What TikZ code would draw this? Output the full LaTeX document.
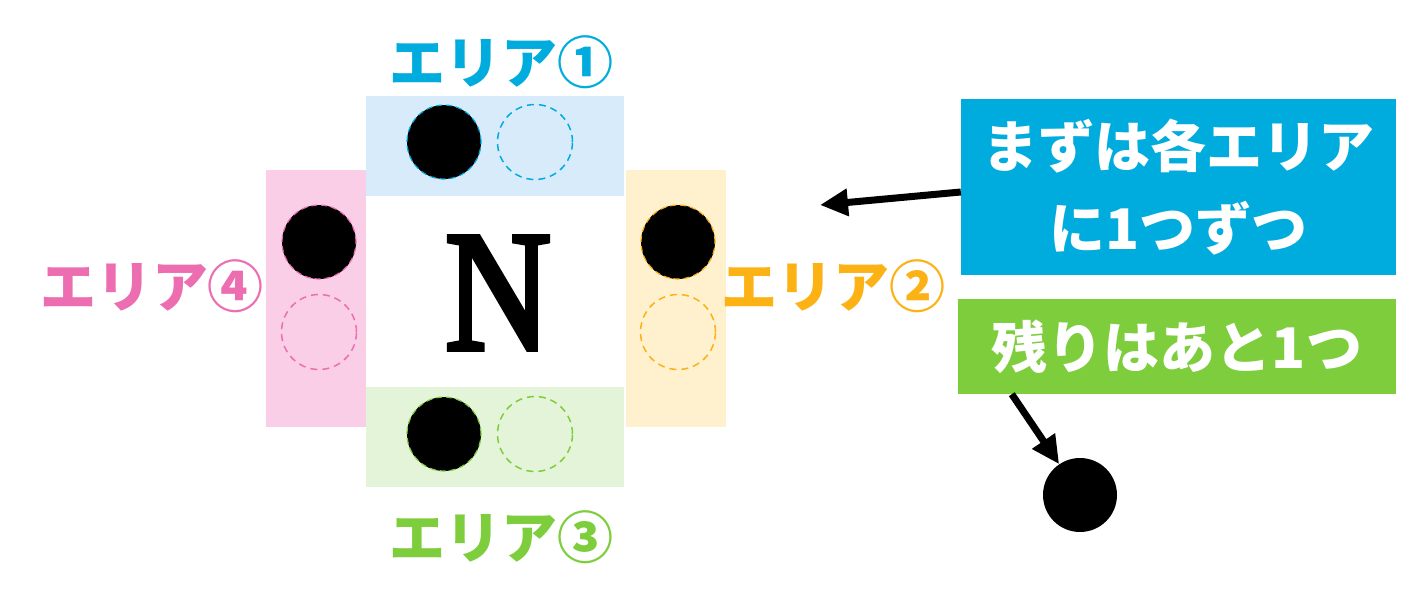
\documentclass[tikz,border=0pt]{standalone}
\usepackage{fontspec}
\newfontfamily\jpfont{Noto Sans CJK JP}
\newfontfamily\nfont{Liberation Serif}[FakeStretch=0.85,FakeBold=3]
\usetikzlibrary{arrows.meta}
\definecolor{blueA}{RGB}{0,172,221}
\definecolor{blueL}{RGB}{216,235,250}
\definecolor{orangeA}{RGB}{252,178,20}
\definecolor{orangeL}{RGB}{255,240,206}
\definecolor{greenA}{RGB}{125,205,60}
\definecolor{greenL}{RGB}{228,244,216}
\definecolor{pinkA}{RGB}{236,110,176}
\definecolor{pinkL}{RGB}{250,206,230}
\begin{document}
\begin{tikzpicture}[x=1pt,y=-1pt,
    area/.style={inner sep=0pt,minimum width=258pt,minimum height=100pt},
    side/.style={inner sep=0pt,minimum width=100pt,minimum height=257pt},
    ball/.style={circle,inner sep=0pt,minimum size=74pt,fill=black,draw=#1,dash pattern=on 6pt off 4pt,line width=1.2pt},
    spot/.style={circle,inner sep=0pt,minimum size=75pt,draw=#1,dash pattern=on 7pt off 5pt,line width=1.5pt},
    tag/.style={text=#1,font=\jpfont\bfseries\fontsize{56}{60}\selectfont,inner sep=0pt},
    note/.style={inner sep=0pt,text=white,font=\jpfont\bfseries\fontsize{56}{82}\selectfont,align=center},
    pointer/.style={-{Triangle[length=28pt,width=26pt]},line width=7pt}]
    \useasboundingbox (0,0) rectangle (1417,616);
    \node[area,fill=blueL](area1) at (495,146){};
    \node[side,fill=orangeL](area2) at (675.5,298.5){};
    \node[area,fill=greenL](area3) at (495,437){};
    \node[side,fill=pinkL](area4) at (315.5,298.5){};
    \node[ball=blueA](ball1) at (444,142){};
    \node[spot=blueA](spot1) at (535,142){};
    \node[ball=orangeA](ball2) at (678,242){};
    \node[spot=orangeA](spot2) at (678,332){};
    \node[ball=greenA](ball3) at (444,434){};
    \node[spot=greenA](spot3) at (535,434){};
    \node[ball=pinkA](ball4) at (319,242){};
    \node[spot=pinkA](spot4) at (319,332){};
    \node[tag=blueA](tag1) at (501,62){エリア①};
    \node[tag=orangeA](tag2) at (833,286){エリア②};
    \node[tag=greenA](tag3) at (501,537){エリア③};
    \node[tag=pinkA](tag4) at (152,286){エリア④};
    \node[font=\nfont\fontsize{172}{172}\selectfont,inner sep=0pt](north) at (498,293){N};
    \node[note,fill=blueA,minimum width=435pt,minimum height=176pt](first) at (1178.5,187){まずは各エリア\\に1つずつ};
    \node[note,fill=greenA,minimum width=438pt,minimum height=95pt](rest) at (1177,346.5){残りはあと1つ};
    \node[circle,fill=black,inner sep=0pt,minimum size=74pt](dot) at (1080,495){};
    \coordinate (aim) at (820,205);
    \draw[pointer]([yshift=-5pt]first.west) -- (aim);
    \draw[pointer]([xshift=54pt]rest.south west) -- (dot);
\end{tikzpicture}
\end{document}
